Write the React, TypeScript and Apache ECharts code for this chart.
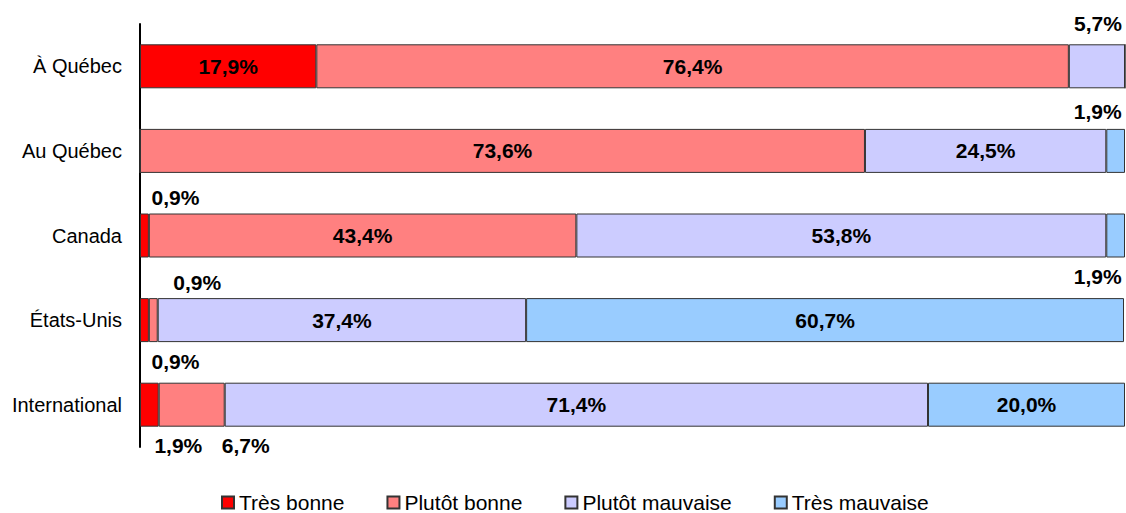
import React, { useEffect, useRef } from "react";
import * as echarts from "echarts";

const categories = ["À Québec", "Au Québec", "Canada", "États-Unis", "International"];
const seriesNames = ["Très bonne", "Plutôt bonne", "Plutôt mauvaise", "Très mauvaise"];
const tresBonne = [17.9, 0, 0.9, 0.9, 1.9];
const plutotBonne = [76.4, 73.6, 43.4, 0.9, 6.7];
const plutotMauvaise = [5.7, 24.5, 53.8, 37.4, 71.4];
const tresMauvaise = [0, 1.9, 1.9, 60.7, 20.0];
const colors = ["#FF0000", "#FF8080", "#CCCCFF", "#99CCFF"];

// values smaller than this are labelled outside the bar
const insideThreshold = 10;
// placement of the outside labels: [seriesIndex, categoryIndex, position, dx, dy]
const outsidePlacement: [number, number, "top" | "bottom", number, number][] = [
  [2, 0, "top", 1, -5],
  [3, 1, "top", -18, -2],
  [0, 2, "top", 31, -1],
  [3, 2, "bottom", -18, 3],
  [1, 3, "top", 44, 0],
  [0, 3, "bottom", 31, 4],
  [0, 4, "bottom", 29, 3],
  [1, 4, "bottom", 54, 3],
];

const fmt = (v: number) => v.toFixed(1).replace(".", ",") + "%";
const FONT = "Liberation Sans, Arial, sans-serif";

export default function App() {
  const ref = useRef<HTMLDivElement>(null);
  useEffect(() => {
    if (!ref.current) return;
    const chart = echarts.init(ref.current, undefined, { renderer: "svg" });
    const all = [tresBonne, plutotBonne, plutotMauvaise, tresMauvaise];
    const labelFont = {
      fontFamily: FONT,
      fontSize: 21,
      fontWeight: "bold" as const,
      color: "#000",
    };
    const series = all.map((vals, si) => ({
      name: seriesNames[si],
      type: "bar",
      stack: "total",
      barWidth: 44,
      itemStyle: { color: colors[si], borderColor: "#333", borderWidth: 1 },
      data: vals.map((v, ci) => {
        const place = outsidePlacement.find((p) => p[0] === si && p[1] === ci);
        if (v === 0) return { value: v, label: { show: false } };
        if (place) {
          return {
            value: v,
            label: {
              show: true,
              position: place[2],
              distance: 5,
              offset: [place[3], place[4]],
              formatter: fmt(v),
              ...labelFont,
            },
          };
        }
        return {
          value: v,
          label: {
            show: v >= insideThreshold,
            position: "inside",
            formatter: fmt(v),
            ...labelFont,
          },
        };
      }),
    }));
    chart.setOption({
      animation: false,
      textStyle: { fontFamily: FONT },
      grid: { left: 140, right: 1, top: 24, bottom: 66, containLabel: false },
      xAxis: { type: "value", min: 0, max: 100, show: false },
      yAxis: {
        type: "category",
        data: categories,
        inverse: true,
        axisLine: { show: true, lineStyle: { color: "#000", width: 2 } },
        axisTick: { show: false },
        axisLabel: {
          margin: 18,
          fontSize: 20,
          color: "#000",
          fontFamily: FONT,
        },
        splitLine: { show: false },
      },
      legend: {
        data: seriesNames,
        left: 221,
        top: 492,
        padding: 0,
        itemWidth: 12,
        itemHeight: 12,
        itemGap: 42,
        icon: "rect",
        textStyle: {
          fontSize: 21,
          lineHeight: 21,
          color: "#000",
          fontFamily: FONT,
        },
      },
      series,
    });
    return () => chart.dispose();
  }, []);
  return (
    <div
      ref={ref}
      style={{ position: "fixed", left: 0, top: 0, width: 1126, height: 513, background: "#fff" }}
    />
  );
}
